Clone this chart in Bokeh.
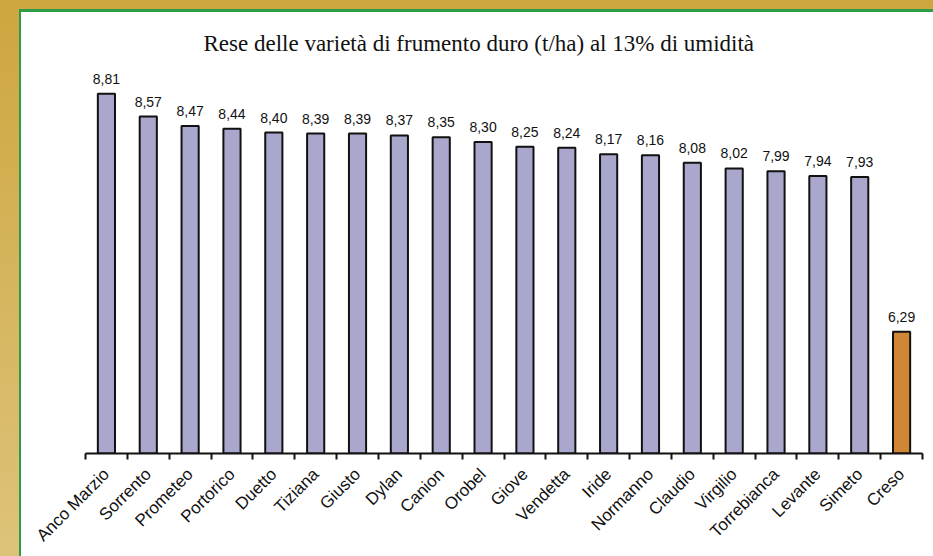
from bokeh.plotting import figure
from bokeh.models import ColumnDataSource, Range1d, FixedTicker, LabelSet
from bokeh.core.properties import value
from bokeh.embed import file_html
from bokeh.resources import INLINE

varieties = ["Anco Marzio", "Sorrento", "Prometeo", "Portorico", "Duetto", "Tiziana",
             "Giusto", "Dylan", "Canion", "Orobel", "Giove", "Vendetta", "Iride",
             "Normanno", "Claudio", "Virgilio", "Torrebianca", "Levante", "Simeto", "Creso"]
yields = [8.81, 8.57, 8.47, 8.44, 8.40, 8.39, 8.39, 8.37, 8.35, 8.30, 8.25, 8.24,
          8.17, 8.16, 8.08, 8.02, 7.99, 7.94, 7.93, 6.29]
bar_colors = ["#A9A7CC"] * 19 + ["#CF8735"]

xs = list(range(len(varieties)))
labels = [f"{v:.2f}".replace(".", ",") for v in yields]
src = ColumnDataSource(dict(x=xs, y=yields, color=bar_colors, label=labels))

p = figure(width=933, height=556, x_range=Range1d(-0.5, len(varieties) - 0.5),
           y_range=Range1d(5, 9.1), output_backend="svg", toolbar_location=None,
           min_border_left=85, min_border_right=11, min_border_top=66, min_border_bottom=103,
           border_fill_color=None, background_fill_color=None)
p.styles = {
    "background": ("linear-gradient(#2E9B48, #2E9B48) 19px 9px / 914px 3px no-repeat, "
                   "linear-gradient(#2E9B48, #2E9B48) 19px 9px / 2px 547px no-repeat, "
                   "linear-gradient(#ffffff, #ffffff) 21px 12px / 912px 544px no-repeat, "
                   "linear-gradient(to bottom, #CEA63F, #DDC37A) 0px 0px / 933px 556px no-repeat")
}
p.title.text = "Rese delle varietà di frumento duro (t/ha) al 13% di umidità"
p.title.text_font = "Liberation Serif"
p.title.text_font_size = "23px"
p.title.text_font_style = "normal"
p.title.text_color = "#111111"
p.title.align = "left"
p.title.offset = 118
p.title.standoff = 22
p.outline_line_color = None
p.xgrid.visible = False
p.ygrid.visible = False
p.yaxis.visible = False

p.vbar(x="x", top="y", bottom=5, width=0.41, fill_color="color",
       line_color="#111111", line_width=2, source=src)

lab = LabelSet(x="x", y="y", text="label", source=src, text_align="center",
               text_baseline="bottom", y_offset=10, text_font=value("Liberation Sans"),
               text_font_size=value("14px"), text_color="#111111")
p.add_layout(lab)

ax = p.xaxis[0]
ax.ticker = FixedTicker(ticks=xs, minor_ticks=[i - 0.5 for i in range(len(varieties) + 1)])
ax.major_label_overrides = {i: n for i, n in enumerate(varieties)}
ax.major_label_orientation = 0.785398
ax.major_label_text_font = "Liberation Sans"
ax.major_label_text_font_size = "17px"
ax.major_label_text_color = "#111111"
ax.major_label_standoff = 12
ax.major_tick_line_color = None
ax.minor_tick_line_color = "#111111"
ax.minor_tick_line_width = 2
ax.minor_tick_out = 6
ax.minor_tick_in = 0
ax.axis_line_color = "#111111"
ax.axis_line_width = 2

open("out.html", "w").write(file_html(p, INLINE))
